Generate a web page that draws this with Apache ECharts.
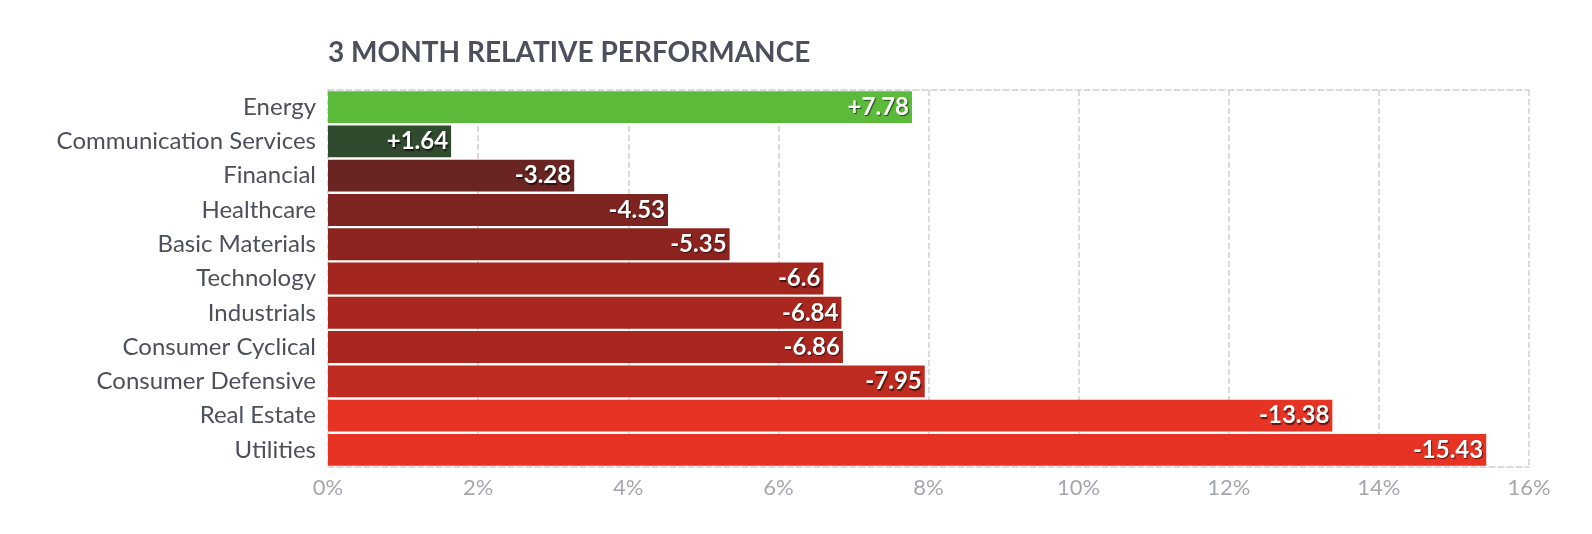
<!DOCTYPE html>
<html>
<head>
<meta charset="utf-8">
<script src="https://cdn.jsdelivr.net/npm/echarts@6/dist/echarts.min.js"></script>
<style>
html,body{margin:0;padding:0;background:#fff;}
#chart{width:1592px;height:534px;}
</style>
</head>
<body>
<div id="chart"></div>
<script>
var categories = ["Energy","Communication Services","Financial","Healthcare","Basic Materials","Technology","Industrials","Consumer Cyclical","Consumer Defensive","Real Estate","Utilities"];
var values = [7.78, 1.64, -3.28, -4.53, -5.35, -6.6, -6.84, -6.86, -7.95, -13.38, -15.43];
var labels = ["+7.78","+1.64","-3.28","-4.53","-5.35","-6.6","-6.84","-6.86","-7.95","-13.38","-15.43"];
var colors = ["#5bba3a","#2f4a2c","#6a2522","#7e2420","#8c231e","#a3261f","#aa271f","#aa271f","#bf2b21","#e63324","#e63324"];
var xTicks = [0,2,4,6,8,10,12,14,16];

var chart = echarts.init(document.getElementById('chart'), null, {renderer:'canvas'});
var data = values.map(function(v,i){
  return {value: Math.abs(v), itemStyle:{color: colors[i]}, label:{formatter: labels[i]}};
});
chart.setOption({
  animation:false,
  textStyle:{fontFamily:'Lato'},
  title:{
    text:'3 MONTH RELATIVE PERFORMANCE',
    left:323, top:34,
    textStyle:{fontFamily:'Lato', fontWeight:'bold', fontSize:28, color:'#4b505c'}
  },
  grid:{left:328, right:63, top:90, bottom:67, containLabel:false},
  xAxis:[{
    type:'value', min:0, max:16, interval:2,
    axisLabel:{formatter:function(v){return v+'%';}, color:'#a4a7ad', fontSize:22, fontFamily:'Lato', margin:10},
    axisLine:{show:true, lineStyle:{color:'#cfcfd3', type:'dashed', width:1.5}},
    axisTick:{show:false},
    splitLine:{show:true, lineStyle:{color:'#cfcfd3', type:'dashed', width:1.5}}
  },{
    type:'value', min:0, max:16, interval:2, position:'top',
    axisLabel:{show:false},
    axisLine:{show:true, lineStyle:{color:'#cfcfd3', type:'dashed', width:1.5}},
    axisTick:{show:false},
    splitLine:{show:false}
  }],
  yAxis:{
    type:'category', data:categories, inverse:true,
    axisLine:{show:false}, axisTick:{show:false},
    axisLabel:{color:'#4b505c', fontSize:24, fontFamily:'Lato', margin:12}
  },
  series:[{
    type:'bar', data:data, xAxisIndex:0,
    barCategoryGap:'7%',
    label:{
      show:true, position:'insideRight', distance:3,
      color:'#fff', fontWeight:'bold', fontSize:24, fontFamily:'Lato',
      textShadowColor:'rgba(0,0,0,0.6)', textShadowBlur:1, textShadowOffsetX:1, textShadowOffsetY:1.5
    }
  }]
});
</script>
</body>
</html>
